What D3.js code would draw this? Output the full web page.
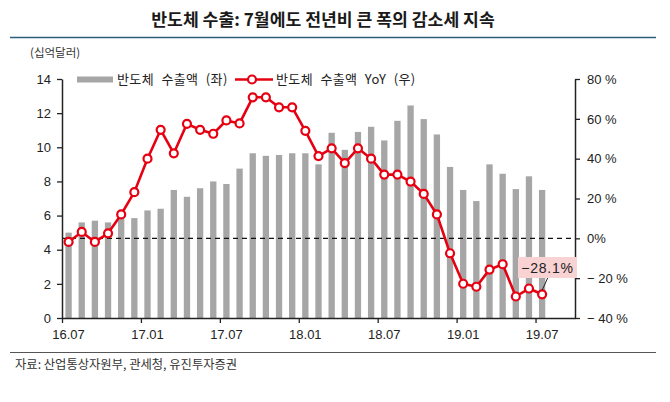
<!DOCTYPE html>
<html><head><meta charset="utf-8">
<script src="https://cdn.jsdelivr.net/npm/d3@7"></script>
<style>
body{margin:0;background:#fff;}
svg{display:block;font-family:"Liberation Sans","Noto Sans CJK KR",sans-serif;}
</style></head>
<body>
<script>
const months = ["16.07","16.08","16.09","16.10","16.11","16.12","17.01","17.02","17.03","17.04","17.05","17.06","17.07","17.08","17.09","17.10","17.11","17.12","18.01","18.02","18.03","18.04","18.05","18.06","18.07","18.08","18.09","18.10","18.11","18.12","19.01","19.02","19.03","19.04","19.05","19.06","19.07"];
const extraMonths = ["19.08","19.09"];
const exportsVal = [5.0,5.6,5.7,5.6,5.95,5.85,6.3,6.4,7.5,7.1,7.6,8.0,7.85,8.75,9.65,9.5,9.55,9.65,9.65,9.0,10.85,9.85,10.9,11.2,10.4,11.55,12.45,11.65,10.75,8.85,7.5,6.85,9.0,8.45,7.55,8.3,7.5];
const yoyVal = [-1.8,3.2,-1.8,2.5,12.0,23.2,40.0,54.5,42.7,57.5,54.5,52.5,59.2,57.7,70.8,70.8,65.8,65.8,54.0,41.3,45.2,37.8,45.2,40.0,32.0,32.0,28.5,22.3,12.0,-7.5,-22.8,-24.3,-15.7,-13.0,-29.2,-25.2,-28.1];
const xTickLabels = ["16.07","17.01","17.07","18.01","18.07","19.01","19.07"];
const leftTicks = [0,2,4,6,8,10,12,14];
const rightTicks = [-40,-20,0,20,40,60,80];
const title = "반도체 수출: 7월에도 전년비 큰 폭의 감소세 지속";
const unitLabel = "(십억달러)";
const legendLabels = ["반도체 수출액 (좌)","반도체 수출액 YoY (우)"];
const sourceText = "자료: 산업통상자원부, 관세청, 유진투자증권";
const calloutText = "−28.1%";

const W=670,H=402;
const m={l:62,r:575,t:79,b:318};
const svg=d3.select("body").append("svg").attr("width",W).attr("height",H);

const x=d3.scaleBand().domain(months.concat(extraMonths)).range([m.l,m.r]).padding(0);
const bw=x.bandwidth();
const cx=d=>x(d)+bw/2;
const yL=d3.scaleLinear().domain([0,14]).range([m.b,m.t]);
const yR=d3.scaleLinear().domain([-40,80]).range([m.b,m.t]);

// title
svg.append("text").attr("x",323).attr("y",26).attr("text-anchor","middle")
  .attr("font-family","'Noto Sans CJK KR',sans-serif").attr("font-weight","bold")
  .attr("font-size",17.2).attr("fill","#1a1a1a").text(title);
svg.append("line").attr("x1",10).attr("x2",656).attr("y1",37.5).attr("y2",37.5)
  .attr("stroke","#2e5d78").attr("stroke-width",1.3);
svg.append("text").attr("x",30).attr("y",57).attr("font-size",11.5).attr("fill","#333")
  .attr("font-family","'Noto Sans CJK KR',sans-serif").text(unitLabel);

// bars
svg.append("g").selectAll("rect").data(exportsVal).join("rect")
  .attr("x",(d,i)=>cx(months[i])-bw*0.24).attr("width",bw*0.48)
  .attr("y",d=>yL(d)).attr("height",d=>yL(0)-yL(d)).attr("fill","#a6a6a6");

// zero dashed line
svg.append("line").attr("x1",m.l).attr("x2",m.r).attr("y1",yR(0)).attr("y2",yR(0))
  .attr("stroke","#111").attr("stroke-width",1.4).attr("stroke-dasharray","5,4");

// axes
const axCol="#222";
const gL=svg.append("g").attr("transform",`translate(${m.l},0)`)
  .call(d3.axisLeft(yL).tickValues(leftTicks).tickSize(5).tickSizeOuter(0).tickPadding(6));
const gR=svg.append("g").attr("transform",`translate(${m.r},0)`)
  .call(d3.axisRight(yR).tickValues(rightTicks).tickSize(5).tickSizeOuter(0).tickPadding(7)
    .tickFormat(d=>d===0?"0%":(d<0?"− "+(-d):d)+" %"));
const xi=d3.scaleLinear().domain([0,months.length+extraMonths.length]).range([m.l,m.r]);
const gB=svg.append("g").attr("transform",`translate(0,${m.b})`)
  .call(d3.axisBottom(xi).tickValues(xTickLabels.map(l=>months.indexOf(l))).tickSize(5).tickSizeOuter(0).tickFormat(""));
svg.append("g").selectAll("text").data(xTickLabels).join("text")
  .attr("x",d=>cx(d)).attr("y",m.b+21).attr("text-anchor","middle")
  .attr("font-size",13).attr("fill","#222").text(d=>d);
[gL,gR,gB].forEach(g=>{
  g.selectAll(".domain").attr("stroke",axCol).attr("stroke-width",1.5);
  g.selectAll(".tick line").attr("stroke",axCol).attr("stroke-width",1.3);
  g.selectAll("text").attr("font-size",13).attr("fill","#222")
   .attr("font-family","'Liberation Sans',sans-serif");
});

// line
const red="#e60012";
const line=d3.line().x((d,i)=>cx(months[i])).y(d=>yR(d));
svg.append("path").datum(yoyVal).attr("d",line).attr("fill","none")
  .attr("stroke",red).attr("stroke-width",2.6).attr("stroke-linejoin","round");
svg.append("g").selectAll("circle").data(yoyVal).join("circle")
  .attr("cx",(d,i)=>cx(months[i])).attr("cy",d=>yR(d)).attr("r",4)
  .attr("fill","#fff").attr("stroke",red).attr("stroke-width",2.2);

// callout
const lastM=months[months.length-1], lastV=yoyVal[yoyVal.length-1];
svg.append("line").attr("x1",cx(lastM)).attr("y1",yR(lastV)-4).attr("x2",cx(lastM)+6).attr("y2",277)
  .attr("stroke","#222").attr("stroke-width",1);
svg.append("rect").attr("x",518).attr("y",257).attr("width",59).attr("height",21).attr("fill","#f9d3d3");
svg.append("text").attr("x",547.5).attr("y",273).attr("text-anchor","middle").attr("font-size",14)
  .attr("fill","#222").attr("letter-spacing",0.8).text(calloutText);

// legend
const lg=svg.append("g");
lg.append("rect").attr("x",77).attr("y",76.5).attr("width",36).attr("height",6).attr("fill","#a6a6a6");
lg.append("text").attr("x",117).attr("y",84).attr("font-size",13).attr("fill","#222")
  .attr("word-spacing",4).attr("letter-spacing",0.4)
  .attr("font-family","'Noto Sans CJK KR',sans-serif").text(legendLabels[0]);
lg.append("line").attr("x1",235).attr("x2",273).attr("y1",79.5).attr("y2",79.5).attr("stroke",red).attr("stroke-width",2.6);
lg.append("circle").attr("cx",252).attr("cy",79.5).attr("r",4).attr("fill","#fff").attr("stroke",red).attr("stroke-width",2.2);
lg.append("text").attr("x",276).attr("y",84).attr("font-size",13).attr("fill","#222")
  .attr("word-spacing",4).attr("letter-spacing",0.4)
  .attr("font-family","'Noto Sans CJK KR',sans-serif").text(legendLabels[1]);

// source
svg.append("line").attr("x1",10).attr("x2",656).attr("y1",352.5).attr("y2",352.5).attr("stroke","#555").attr("stroke-width",1);
svg.append("text").attr("x",15).attr("y",369).attr("font-size",12.3).attr("fill","#333")
  .attr("font-family","'Noto Sans CJK KR',sans-serif").text(sourceText);
</script>
</body></html>
